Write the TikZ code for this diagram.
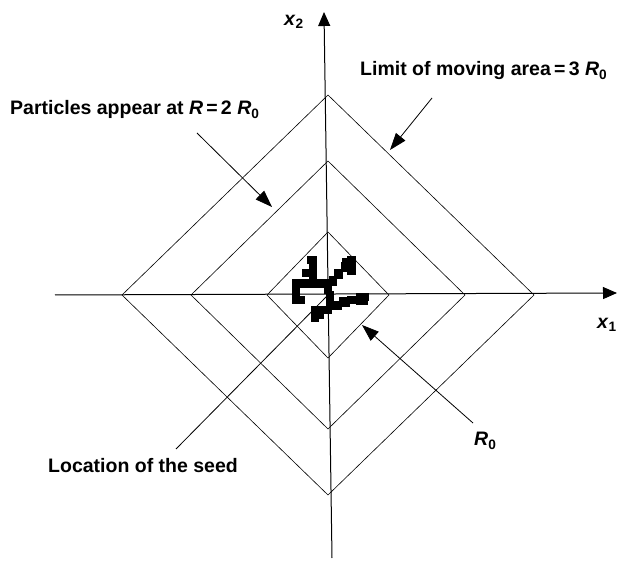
\documentclass[tikz,border=0pt]{standalone}
\usepackage{fontspec}
\setmainfont{Liberation Sans}
\usetikzlibrary{arrows.meta,positioning,calc}
\tikzset{
    % Axis style
    axisline/.style={
        -{Triangle[length=14pt,width=12pt]},
        line width=1pt
    },
    % Boundary square style
    boundline/.style={
        line width=0.6pt
    },
    % Pointer arrow style
    pointer/.style={
        -{Triangle[length=17pt,width=12pt]},
        line width=0.8pt
    },
    % Plain leader line
    leader/.style={
        line width=0.8pt
    },
    % Label text
    labeltext/.style={
        font=\bfseries\fontsize{19.5}{23}\selectfont,
        inner sep=0pt
    }
}

\begin{document}
\begin{tikzpicture}[x=1pt,y=-1pt]
    \useasboundingbox (0,0) rectangle (619,569);
    \coordinate (o) at (328,295);
    % axes
    \coordinate (axL) at (55,295);
    \coordinate (axR) at (617,293);
    \coordinate (axB) at (332,558);
    \coordinate (axT) at (324,12);
    \draw[axisline] (axL) -- (axR);
    \draw[axisline] (axB) -- (axT);
    \node[labeltext] (xone) at (607,325) {\textit{x}\textsubscript{1}};
    \node[labeltext] (xtwo) at (294,22) {\textit{x}\textsubscript{2}};
    % boundaries
    \foreach \rx/\ry in {61/63,137/134,206/200}
        \draw[boundline] ($(o)+(-\rx,0)$) -- ($(o)+(0,-\ry)$) -- ($(o)+(\rx,0)$) -- ($(o)+(0,\ry)$) -- cycle;
    % aggregate
    \foreach \xa/\ya/\xb/\yb in {307/256/317/264, 309/262/317/288, 302/269/310/277,
        292/279/331/288, 292/287/300/304, 292/296/305/304,
        324/282/332/294, 329/276/337/286, 334/269/343/279, 341/262/350/272, 347/256/356/275, 342/258/348/265,
        326/291/334/310, 331/301/342/310, 339/297/350/307, 347/296/359/304, 356/293/369/301,
        356/300/362/305, 362/300/368/305,
        311/306/332/314, 311/312/319/322, 318/312/324/319}
        \fill (\xa,\ya) rectangle (\xb,\yb);
    % labels
    \node[labeltext,anchor=base west] (appear) at (10,115) {Particles appear at \textit{R}\,=\,2 \textit{R}\textsubscript{0}};
    \node[labeltext,anchor=base west] (limit) at (360,76) {Limit of moving area\,=\,3 \textit{R}\textsubscript{0}};
    \node[labeltext,anchor=base west] (rzero) at (474,446) {\textit{R}\textsubscript{0}};
    \node[labeltext,anchor=base west] (seed) at (48,472) {Location of the seed};
    % arrows
    \coordinate (pa) at (197,133);
    \coordinate (pb) at (272,207);
    \coordinate (la) at (432,98);
    \coordinate (lb) at (390,150);
    \coordinate (ra) at (473,423);
    \coordinate (rb) at (362,325);
    \coordinate (sa) at (176,449);
    \draw[pointer] (pa) -- (pb);
    \draw[pointer] (la) -- (lb);
    \draw[pointer] (ra) -- (rb);
    \draw[leader] (sa) -- (o);
\end{tikzpicture}
\end{document}
